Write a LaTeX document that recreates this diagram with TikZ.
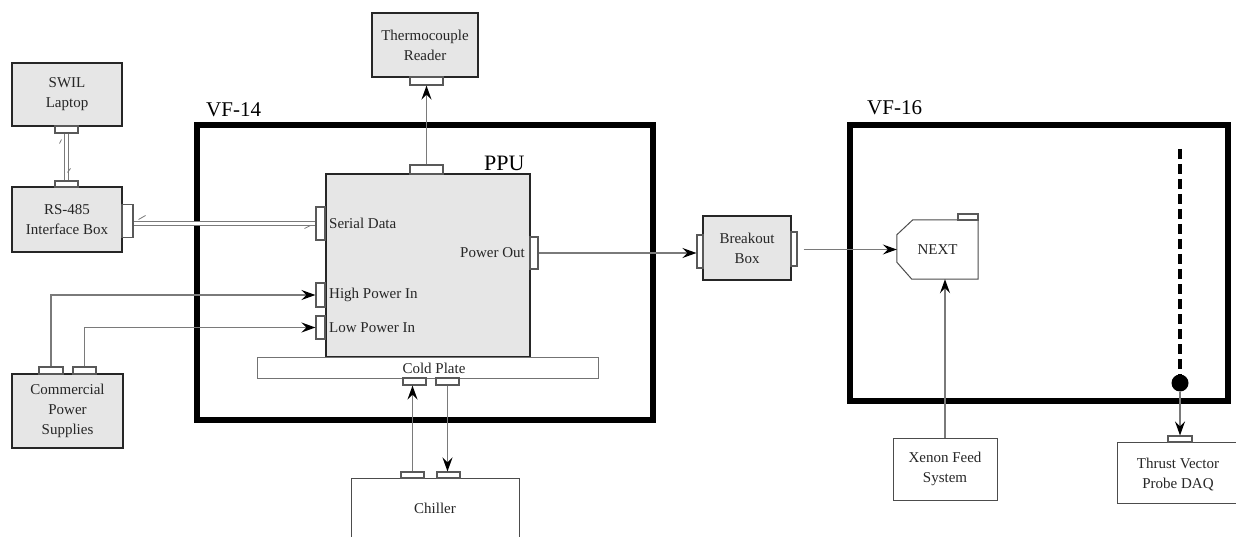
\documentclass[tikz,border=0pt]{standalone}
\usepackage{fontspec}
\setmainfont{Liberation Serif}
\usetikzlibrary{arrows.meta,calc}
\definecolor{boxgray}{HTML}{E6E6E6}
\definecolor{linegray}{HTML}{7A7A7A}
\newcommand{\lblfont}{\fontsize{15}{20}\selectfont}
\begin{document}
\begin{tikzpicture}[x=1pt,y=-1pt,
  gbox/.style={draw=black!85, line width=2pt, fill=boxgray, align=center, inner sep=0pt, font=\lblfont, text=black!85},
  wbox/.style={draw=black!70, line width=1pt, fill=white, align=center, inner sep=0pt, font=\lblfont, text=black!85},
  tab/.style={draw=black!65, line width=1.1pt, fill=white, inner sep=0pt},
  conn/.style={draw=linegray, line width=1.4pt},
  tipst/.style={-{Stealth[length=14pt,width=10pt,inset=5pt,black]}},
  arr/.style={conn, tipst},
  lbl/.style={font=\lblfont, inner sep=0pt, text=black!85},
  big/.style={font=\fontsize{21}{24}\selectfont, inner sep=0pt},
  chamber/.style={draw=black, line width=6.5pt},
  dbl/.style={draw=linegray, line width=0.9pt, double=white, double distance=2.6pt},
  tick/.style={draw=linegray, line width=0.8pt},
]
\useasboundingbox (0,0) rectangle (1236,537);
\fill[white] (0,0) rectangle (1236,537);

% chambers
\node[chamber, minimum width=456, minimum height=295, inner sep=0pt] (vf14) at (425,272.5) {};
\node[chamber, minimum width=378, minimum height=276, inner sep=0pt] (vf16) at (1039,263) {};
\node[big, anchor=base west] (vf14lbl) at (206,117) {VF-14};
\node[big, anchor=base west] (vf16lbl) at (867,115) {VF-16};

% boxes
\node[gbox, minimum width=110, minimum height=63] (laptop) at (67,94.5) {SWIL\\Laptop};
\node[gbox, minimum width=110, minimum height=65] (rs485) at (67,219.5) {RS-485\\Interface Box};
\node[gbox, minimum width=111, minimum height=74] (cps) at (67.5,411) {Commercial\\Power\\Supplies};
\node[gbox, minimum width=106, minimum height=64] (thermo) at (425,45) {Thermocouple\\Reader};
\node[gbox, minimum width=204, minimum height=183] (ppu) at (428,265.5) {};
\node[draw=black!55, line width=1pt, fill=white, minimum width=341, minimum height=21, inner sep=0pt] (cold) at (427.5,367.5) {};
\node[lbl] (coldlbl) at (434,368) {Cold Plate};
\node[wbox, minimum width=168, minimum height=82] (chiller) at (435,519) {};
\node[lbl] (chillerlbl) at (435,508) {Chiller};
\node[gbox, minimum width=88, minimum height=64] (breakout) at (747,248) {Breakout\\Box};
\node[wbox, minimum width=104, minimum height=62] (xenon) at (945,469) {Xenon Feed\\System};
\node[wbox, minimum width=124, minimum height=61] (thrust) at (1179,472.5) {};
\node[lbl, align=center] (thrustlbl) at (1178,475) {Thrust Vector\\Probe DAQ};

% NEXT
\node[minimum width=81, minimum height=59, inner sep=0pt] (next) at (937.5,249.5) {};
\draw[draw=black!70, line width=1pt, fill=white]
  ($(next.north west)+(16,0)$) -- (next.north east) -- (next.south east)
  -- ($(next.south west)+(15,0)$) -- ($(next.south west)+(0,-17)$)
  -- ($(next.north west)+(0,15)$) -- cycle;
\node[lbl] (nextlbl) at (next.center) {NEXT};

% PPU labels
\node[big, font=\fontsize{22}{24}\selectfont, anchor=base west] (ppulbl) at (484,171) {PPU};
\node[lbl, anchor=west] (serlbl) at (329,223.5) {Serial Data};
\node[lbl, anchor=east] (polbl) at (525,253) {Power Out};
\node[lbl, anchor=west] (hplbl) at (329,295) {High Power In};
\node[lbl, anchor=west] (lplbl) at (329,327.5) {Low Power In};

% tabs
\node[tab, minimum width=23, minimum height=7] (laptab) at (66.5,129.5) {};
\node[tab, minimum width=23, minimum height=6] (rstabT) at (66.5,184) {};
\node[tab, minimum width=11, minimum height=33] (rstabR) at (127.5,221) {};
\node[tab, minimum width=33, minimum height=8] (thtab) at (426.5,81) {};
\node[tab, minimum width=33, minimum height=9] (pputop) at (426.5,169.5) {};
\node[tab, minimum width=9, minimum height=33] (sertab) at (320.5,223.5) {};
\node[tab, minimum width=9, minimum height=24] (hptab) at (320.5,295) {};
\node[tab, minimum width=9, minimum height=23] (lptab) at (320.5,327.5) {};
\node[tab, minimum width=8, minimum height=32] (potab) at (534,253) {};
\node[tab, minimum width=23, minimum height=7] (cptab1) at (414.5,381.5) {};
\node[tab, minimum width=23, minimum height=7] (cptab2) at (447.5,381.5) {};
\node[tab, minimum width=23, minimum height=6] (chtab1) at (412.5,475) {};
\node[tab, minimum width=23, minimum height=6] (chtab2) at (448.5,475) {};
\node[tab, minimum width=24, minimum height=7] (cpstab1) at (51,370.5) {};
\node[tab, minimum width=23, minimum height=7] (cpstab2) at (84.5,370.5) {};
\node[tab, minimum width=6, minimum height=33] (botabL) at (700,251.5) {};
\node[tab, minimum width=6, minimum height=34] (botabR) at (794,249) {};
\node[tab, minimum width=20, minimum height=6] (nexttab) at (968,217) {};
\node[tab, minimum width=24, minimum height=6] (thrtab) at (1180,439) {};

% probe
\coordinate (dtop) at (1180,149);
\node[circle, fill=black, minimum size=17, inner sep=0pt] (dot) at (1180,383) {};
\draw[black, line width=4pt, dash pattern=on 10pt off 5pt] (dtop) -- (dot.center);

% connectors
\draw[dbl] (laptab.south) -- (rstabT.north);
\draw[tick] ($(laptab.south)+(-7,10)$) -- ++(2,-4);
\draw[tick] ($(rstabT.north)+(1,-8)$) -- ++(3,-4);
\draw[dbl] (rstabR.east |- sertab.west) -- (sertab.west);
\draw[tick] ($(rstabR.east |- sertab.west)+(5,-4)$) -- ++(7,-4);
\draw[tick] ($(sertab.west)+(-11,5)$) -- ++(6,-3);

\draw[arr] (pputop.north) -- (thtab.south);
\draw[arr] (potab.east) -- (potab.east -| botabL.west);
\draw[arr, shorten <=6pt] (botabR.east |- next.west) -- (next.west);
\draw[arr] (xenon.north) -- (xenon.north |- next.south);
\draw[arr] (dot.south) -- (thrtab.north);
\draw[arr] (cpstab1.north) |- (hptab.west);
\draw[arr] (cpstab2.north) |- (lptab.west);
\draw[arr] (chtab1.north) -- (chtab1.north |- cptab1.south);
\draw[arr] (cptab2.south) -- (cptab2.south |- chtab2.north);
\end{tikzpicture}
\end{document}
